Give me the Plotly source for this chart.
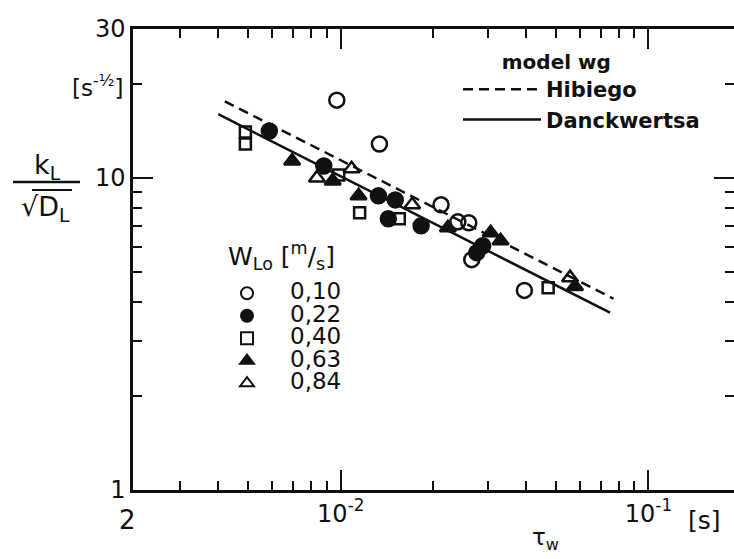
import math
import plotly.graph_objects as go

# ---------------- data ----------------
# tau_w [s] and k_L/sqrt(D_L) [s^-1/2] for each liquid velocity W_Lo [m/s]
w010_x = [0.00971, 0.01336, 0.02118, 0.02402, 0.02607, 0.02666, 0.03952]
w010_y = [17.75, 12.84, 8.20, 7.23, 7.18, 5.47, 4.36]

w022_x = [0.00586, 0.00881, 0.01326, 0.01504, 0.01428, 0.01825, 0.02893, 0.02767]
w022_y = [14.13, 10.92, 8.76, 8.50, 7.40, 7.02, 6.06, 5.76]

w040_x = [0.00490, 0.00490, 0.00985, 0.01152, 0.01550, 0.04722]
w040_y = [14.03, 12.84, 10.22, 7.73, 7.40, 4.45]

w063_x = [0.00695, 0.00942, 0.01143, 0.02230, 0.03070, 0.03307, 0.05771]
w063_y = [11.33, 9.78, 8.76, 6.92, 6.67, 6.29, 4.49]

w084_x = [0.00837, 0.01085, 0.01707, 0.05562]
w084_y = [10.00, 10.69, 8.20, 4.79]

# model lines (end points)
hib_x = [0.0042, 0.077]
hib_y = [17.6, 4.1]
dan_x = [0.0040, 0.075]
dan_y = [16.0, 3.7]

series_names = ["0,10", "0,22", "0,40", "0,63", "0,84"]
series_title = "W<sub>Lo</sub> [<sup>m</sup>/<sub>s</sub>]"
line_names = ["Hibiego", "Danckwertsa"]
line_title = "model wg"

x_tickvals = [0.01, 0.1]
x_ticktext = ["10<sup>-2</sup>", "10<sup>-1</sup>"]
x_start_label = "2"          # the "2" (x 10^-3) written at the left end of the axis
y_tickvals = [1, 10, 30]
y_ticktext = ["1", "10", "30"]

# ---------------- figure ----------------
W, H = 734, 559
L, R, T, B = 133, 0, 29, 69
FONT = "DejaVu Sans"
BLACK = "#111111"

def px(xp):
    return (xp - L) / (W - L - R)

def py(yp):
    return (H - B - yp) / (H - T - B)

def big(s, size):
    return f'<span style="font-size:{size}px">{s}</span>'

fig = go.Figure()

fig.add_trace(go.Scatter(x=hib_x, y=hib_y, mode="lines", name=line_names[0],
                         line=dict(color=BLACK, width=2.5, dash="10px,6px"),
                         legend="legend2"))
fig.add_trace(go.Scatter(x=dan_x, y=dan_y, mode="lines", name=line_names[1],
                         line=dict(color=BLACK, width=2.5),
                         legend="legend2"))

marker_specs = [
    (w010_x, w010_y, "circle-open", 15),
    (w022_x, w022_y, "circle", 15),
    (w040_x, w040_y, "square-open", 11),
    (w063_x, w063_y, "triangle-up", 14),
    (w084_x, w084_y, "triangle-up-open", 14),
]
for (xs, ys, sym, size), name in zip(marker_specs, series_names):
    fig.add_trace(go.Scatter(
        x=xs, y=ys, mode="markers", name=big(name, 23),
        marker=dict(symbol=sym, size=size, color=BLACK,
                    line=dict(color=BLACK, width=2.5)),
        legend="legend"))

axis_common = dict(
    type="log", showgrid=False, zeroline=False,
    showline=True, linecolor=BLACK, linewidth=2.5,
    mirror="ticks", ticks="inside", ticklen=20, tickwidth=2, tickcolor=BLACK,
    tickfont=dict(family=FONT, size=24, color=BLACK),
    minor=dict(ticks="inside", ticklen=9, tickwidth=2, tickcolor=BLACK,
               dtick="D1", showgrid=False),
)

fig.update_xaxes(range=[-2.675, -0.722], tickmode="array",
                 tickvals=x_tickvals, ticktext=x_ticktext, **axis_common)
fig.update_yaxes(range=[0, math.log10(30)], tickmode="array",
                 tickvals=y_tickvals, ticktext=y_ticktext, **axis_common)

annotations = [
    dict(text=x_start_label, x=px(127), y=py(520), font=dict(size=26)),
    dict(text="[s<sup>-½</sup>]", x=px(97), y=py(86), font=dict(size=23)),
    dict(text="k<sub>L</sub>", x=px(48), y=py(166), font=dict(size=27)),
    dict(text="√D<sub>L</sub>", x=px(45), y=py(209), font=dict(size=27)),
    dict(text="[s]", x=px(704), y=py(520), font=dict(size=25)),
    dict(text="τ<sub>w</sub>", x=px(545), y=py(539), font=dict(size=23)),
    dict(text=series_title, x=px(281), y=py(256), font=dict(size=25)),
]
for a in annotations:
    a.update(xref="paper", yref="paper", showarrow=False,
             xanchor="center", yanchor="middle")
    a["font"].update(family=FONT, color=BLACK)
fig.update_layout(annotations=annotations)

fig.update_layout(shapes=[
    dict(type="line", xref="paper", yref="paper",
         x0=px(13), x1=px(80), y0=py(182), y1=py(182),
         line=dict(color=BLACK, width=2.5)),
    dict(type="line", xref="paper", yref="paper",
         x0=px(32), x1=px(72), y0=py(190), y1=py(190),
         line=dict(color=BLACK, width=2)),
])

fig.update_layout(
    width=W, height=H,
    margin=dict(l=L, r=R, t=T, b=B, autoexpand=False),
    paper_bgcolor="white", plot_bgcolor="white",
    font=dict(family=FONT, color=BLACK),
    showlegend=True,
    legend=dict(
        x=px(204), y=py(277), xanchor="left", yanchor="top",
        bgcolor="rgba(0,0,0,0)", borderwidth=0,
        font=dict(family=FONT, size=15, color=BLACK),
        tracegroupgap=0, itemclick=False, itemwidth=76,
        itemsizing="constant",
    ),
    legend2=dict(
        x=px(458), y=py(43), xanchor="left", yanchor="top",
        bgcolor="rgba(0,0,0,0)", borderwidth=0,
        font=dict(family=FONT, size=21, color=BLACK, weight="bold"),
        title=dict(text="\u00a0" * 6 + line_title, side="top",
                   font=dict(family=FONT, size=20, color=BLACK, weight="bold")),
        tracegroupgap=0, itemclick=False, itemwidth=78,
    ),
)

fig.write_html("out.html")
